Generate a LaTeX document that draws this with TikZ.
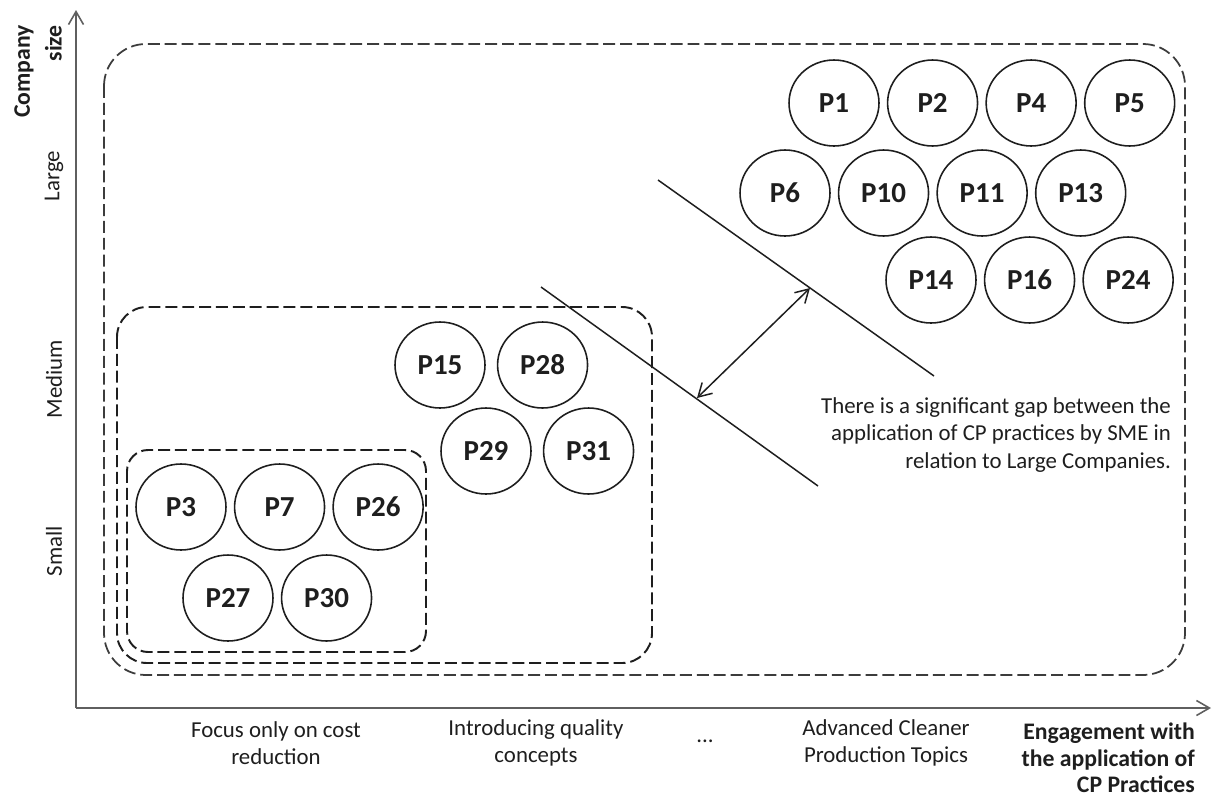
\documentclass[tikz,border=0pt]{standalone}
\usepackage{fontspec}
\setmainfont{Carlito}
\usetikzlibrary{positioning,shapes.geometric,arrows.meta}
\definecolor{ink}{RGB}{30,30,30}
\definecolor{axisgray}{RGB}{95,95,95}
\definecolor{outerdash}{RGB}{60,60,60}

\begin{document}
\begin{tikzpicture}[
    x=0.02cm, y=-0.02cm,
    node distance=0.14cm,
    >={Straight Barb[length=0.26cm, width=0.3cm]},
    practice/.style={draw=ink, ellipse, line width=0.9pt, minimum width=1.8cm, minimum height=1.72cm, inner sep=0pt, text=ink, font=\fontsize{16.5}{18}\selectfont\bfseries},
    groupbox/.style={draw=ink, line width=1.1pt, dash pattern=on 6.8pt off 2.8pt},
    axis/.style={->, draw=axisgray, line width=0.9pt},
    gapline/.style={draw=ink, line width=0.85pt},
    axtext/.style={text=ink, align=center, inner sep=1pt, font=\fontsize{13}{15.4}\selectfont},
    axtitle/.style={text=ink, inner sep=1pt, font=\fontsize{13.5}{15}\selectfont\bfseries}
  ]
    \useasboundingbox (0,0) rectangle (1213,798);

    % axes
    \coordinate (origin) at (76,708);
    \coordinate (ytip) at (76,10);
    \coordinate (xtip) at (1211,708);
    \draw[axis] (origin) -- (ytip);
    \draw[axis] (origin) -- (xtip);

    % company size
    \node[axtitle, rotate=90, anchor=east, align=right, font=\fontsize{13.5}{18}\selectfont\bfseries] (ysize) at (38,23) {Company\\size};
    \node[axtext, rotate=90] (large) at (54,176) {Large};
    \node[axtext, rotate=90] (medium) at (54,379) {Medium};
    \node[axtext, rotate=90] (small) at (54,551) {Small};

    % engagement levels
    \node[axtext] (cost) at (276,743) {Focus only on cost\\reduction};
    \node[axtext] (quality) at (536,743) {Introducing quality\\concepts};
    \node[axtext] (dots) at (705,741) {...};
    \node[axtext] (advanced) at (886,743) {Advanced Cleaner\\Production Topics};
    \node[axtitle, anchor=east, align=right] (xengage) at (1197,758) {Engagement with\\the application of\\CP Practices};

    % groups
    \draw[groupbox, draw=outerdash, line width=1pt, rounded corners=0.84cm] (104,44) rectangle (1185,675);
    \draw[groupbox, rounded corners=0.6cm] (117,307) rectangle (652,663);
    \draw[groupbox, rounded corners=0.42cm] (127,450) rectangle (426,652);

    % large companies
    \node[practice] (p1) at (834,103) {P1};
    \node[practice, right=of p1] (p2) {P2};
    \node[practice, right=of p2] (p4) {P4};
    \node[practice, right=of p4] (p5) {P5};
    \node[practice] (p6) at (785,193) {P6};
    \node[practice, right=of p6] (p10) {P10};
    \node[practice, right=of p10] (p11) {P11};
    \node[practice, right=of p11] (p13) {P13};
    \node[practice] (p14) at (931,280) {P14};
    \node[practice, right=of p14] (p16) {P16};
    \node[practice, right=of p16] (p24) {P24};

    % medium companies
    \node[practice] (p15) at (440,365) {P15};
    \node[practice, right=0.22cm of p15] (p28) {P28};
    \node[practice] (p29) at (486,451) {P29};
    \node[practice, right=0.22cm of p29] (p31) {P31};

    % small companies
    \node[practice] (p3) at (181,507) {P3};
    \node[practice, right=of p3] (p7) {P7};
    \node[practice, right=of p7] (p26) {P26};
    \node[practice] (p27) at (228,598) {P27};
    \node[practice, right=of p27] (p30) {P30};

    % gap
    \coordinate (largeA) at (658,180);
    \coordinate (largeB) at (934,376);
    \coordinate (smeA) at (541,287);
    \coordinate (smeB) at (818,486);
    \coordinate (gapSme) at (697,398);
    \coordinate (gapLarge) at (810,288);
    \draw[gapline] (largeA) -- (largeB);
    \draw[gapline] (smeA) -- (smeB);
    \draw[gapline, <->] (gapSme) -- (gapLarge);
    \node[axtext, anchor=east, align=right] (gaptext) at (1173,435) {There is a significant gap between the\\application of CP practices by SME in\\relation to Large Companies.};
  \end{tikzpicture}
\end{document}
